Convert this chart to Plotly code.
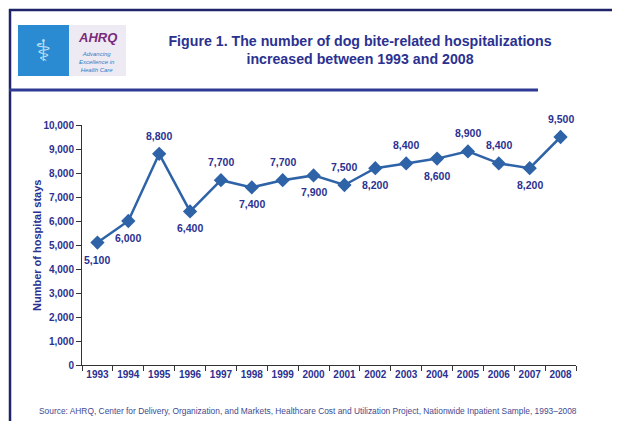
import plotly.graph_objects as go

years = ["1993", "1994", "1995", "1996", "1997", "1998", "1999", "2000",
         "2001", "2002", "2003", "2004", "2005", "2006", "2007", "2008"]
stays = [5100, 6000, 8800, 6400, 7700, 7400, 7700, 7900,
         7500, 8200, 8400, 8600, 8900, 8400, 8200, 9500]
label_side = ["below", "below", "above", "below", "above", "below", "above", "below",
              "above", "below", "above", "below", "above", "above", "below", "above"]
y_ticks = [0, 1000, 2000, 3000, 4000, 5000, 6000, 7000, 8000, 9000, 10000]

NAVY = "#2B3191"
LINE = "#2E63A8"
FONT = "Arial, Liberation Sans, sans-serif"

# page has an 8px body margin; figure is sized to fit the 620x421 window
OFF = 8
PAGE_W, PAGE_H = 620, 421
W, H = PAGE_W - OFF, PAGE_H - OFF
# plot area in page pixels
X0, X1, Y0, Y1 = 82, 576, 125, 365
L, R, T, B = X0 - OFF, PAGE_W - X1, Y0 - OFF, PAGE_H - Y1


def px(x):
    return (x - X0) / (X1 - X0)


def py(y):
    return (Y1 - y) / (Y1 - Y0)


fig = go.Figure()
fig.add_trace(go.Scatter(
    x=years, y=stays, mode="lines+markers",
    line=dict(color=LINE, width=2.5),
    marker=dict(symbol="diamond", size=11, color=LINE),
    hoverinfo="skip", showlegend=False,
))

annotations = []
for i, (v, side) in enumerate(zip(stays, label_side)):
    annotations.append(dict(
        x=i, y=v, xref="x", yref="y", text=f"{v:,}", showarrow=False,
        yshift=18 if side == "above" else -17,
        font=dict(family=FONT, size=10.5, color=NAVY, weight="bold"),
    ))

# y-axis title
annotations.append(dict(
    x=px(37), y=py(246), xref="paper", yref="paper", text="Number of hospital stays",
    textangle=-90, showarrow=False, xanchor="center", yanchor="middle",
    font=dict(family=FONT, size=11, color=NAVY, weight="bold"),
))
# source
annotations.append(dict(
    x=px(37), y=py(411), xref="paper", yref="paper",
    text="Source: AHRQ, Center for Delivery, Organization, and Markets, Healthcare Cost and Utilization Project, Nationwide Inpatient Sample, 1993\u20132008",
    showarrow=False, xanchor="left", yanchor="middle",
    font=dict(family=FONT, size=8.4, color="#3F4A8F"),
))
# logo texts
annotations.append(dict(
    x=px(97), y=py(38), xref="paper", yref="paper", text="<i>AHRQ</i>",
    showarrow=False, xanchor="center", yanchor="middle",
    font=dict(family=FONT, size=13, color="#7A2A7A", weight="bold"),
))
annotations.append(dict(
    x=px(97), y=py(62), xref="paper", yref="paper",
    text="<i>Advancing<br>Excellence in<br>Health Care</i>",
    showarrow=False, xanchor="center", yanchor="middle",
    font=dict(family=FONT, size=6, color="#2E7CC4"),
))
annotations.append(dict(
    x=px(43), y=py(50), xref="paper", yref="paper", text="\u2695",
    showarrow=False, xanchor="center", yanchor="middle",
    font=dict(family="DejaVu Sans", size=30, color="#BFE0F5"),
))

shapes = [
    # logo
    dict(type="rect", xref="paper", yref="paper", x0=px(18), x1=px(69), y0=py(25), y1=py(76),
         fillcolor="#2A8AD2", line=dict(width=0), layer="below"),
    dict(type="rect", xref="paper", yref="paper", x0=px(69), x1=px(126), y0=py(25), y1=py(76),
         fillcolor="#EEEAF4", line=dict(width=0), layer="below"),
    # frame
    dict(type="line", xref="paper", yref="paper", x0=px(9), x1=px(620), y0=py(10), y1=py(10),
         line=dict(color="#1F2468", width=2.5)),
    dict(type="line", xref="paper", yref="paper", x0=px(10), x1=px(10), y0=py(9), y1=py(421),
         line=dict(color="#1F2468", width=2.5)),
    dict(type="line", xref="paper", yref="paper", x0=px(9), x1=px(538), y0=py(90), y1=py(90),
         line=dict(color="#2E3A94", width=3)),
    dict(type="line", xref="paper", yref="paper", x0=px(617.5), x1=px(617.5), y0=py(11), y1=py(421),
         line=dict(color="#DDDDDD", width=1)),
]

fig.update_layout(
    width=W, height=H,
    margin=dict(l=L, r=R, t=T, b=B, autoexpand=False),
    paper_bgcolor="white", plot_bgcolor="white",
    title=dict(
        text="Figure 1. The number of dog bite-related hospitalizations<br>increased between 1993 and 2008",
        x=(360 - OFF) / W, y=1 - (45.5 - OFF) / H, xref="container", yref="container",
        xanchor="center", yanchor="middle",
        font=dict(family=FONT, size=14.2, color=NAVY, weight="bold"),
    ),
    xaxis=dict(
        type="category", categoryorder="array", categoryarray=years,
        range=[-0.5, len(years) - 0.5], tickson="boundaries", tickangle=0,
        ticks="outside", ticklen=5, tickcolor="#333333", tickwidth=1,
        showline=True, linecolor="#333333", linewidth=1, showgrid=False, zeroline=False,
        tickfont=dict(family=FONT, size=10, color=NAVY, weight="bold"),
    ),
    yaxis=dict(
        range=[0, 10000], tickvals=y_ticks, tickformat=",d",
        ticks="outside", ticklen=5, tickcolor="#333333", tickwidth=1,
        showline=True, linecolor="#333333", linewidth=1, showgrid=False, zeroline=False,
        tickfont=dict(family=FONT, size=10, color=NAVY, weight="bold"),
    ),
    annotations=annotations,
    shapes=shapes,
)

fig.write_html("out.html")
